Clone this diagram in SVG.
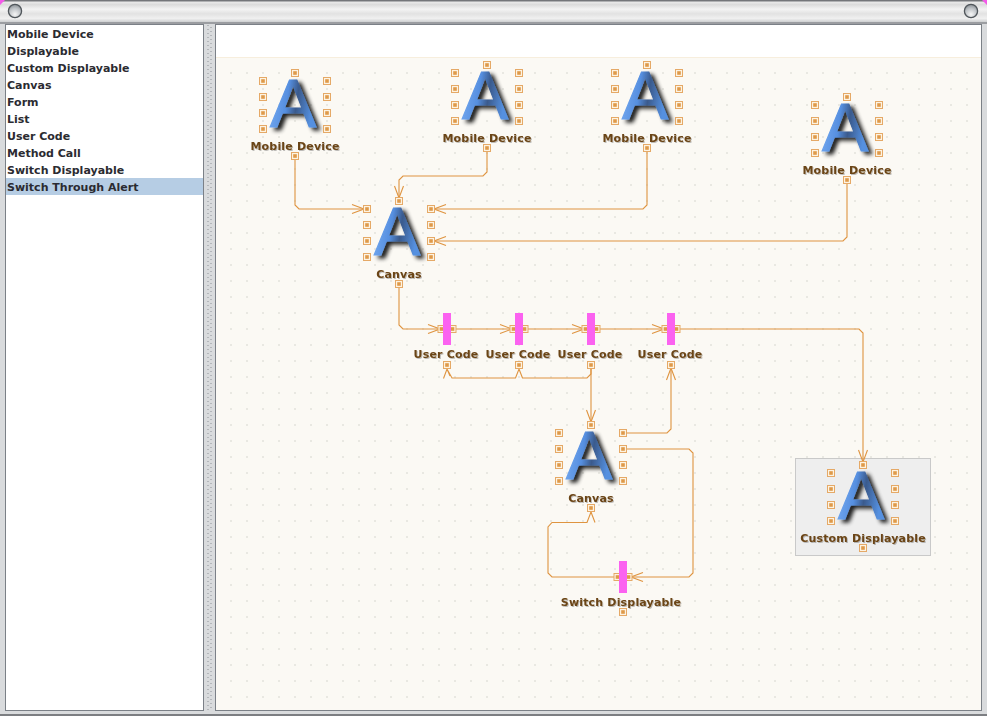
<svg xmlns="http://www.w3.org/2000/svg" width="987" height="716" viewBox="0 0 987 716">
<style>
.list{font-family:"DejaVu Sans",sans-serif;font-weight:bold;font-size:11px;letter-spacing:0;fill:#2b2b31}
.lab{font-family:"DejaVu Sans",sans-serif;font-weight:bold;font-size:11px;letter-spacing:.18px;fill:#6b4415;text-anchor:middle;filter:url(#ls)}
.c{fill:none;stroke:#df9440;stroke-width:1.1}
.pin{fill:#fdf3e2;stroke:#e5a967;stroke-width:1}
.pd{fill:#df9a4a}
.bar{fill:#fb62f0}
.A{font-family:"Liberation Sans",sans-serif;font-size:69px;text-anchor:middle;fill:url(#ag);stroke:url(#ag);stroke-width:1.2;filter:url(#as)}
</style>
<defs>
<linearGradient id="ag" x1="0" y1="0" x2="1" y2="0.25"><stop offset="0" stop-color="#7cb0f4"/><stop offset=".45" stop-color="#568fe0"/><stop offset=".66" stop-color="#3a5a8c"/><stop offset="1" stop-color="#5590e0"/></linearGradient>
<linearGradient id="tb" x1="0" y1="0" x2="0" y2="1"><stop offset="0" stop-color="#f4f4f4"/><stop offset=".2" stop-color="#dcdcdc"/><stop offset=".4" stop-color="#f3f3f3"/><stop offset=".6" stop-color="#e2e2e2"/><stop offset=".8" stop-color="#f0f0f0"/><stop offset="1" stop-color="#c4c6c8"/></linearGradient>
<radialGradient id="btn" cx=".5" cy=".75" r=".8"><stop offset="0" stop-color="#f6f6f6"/><stop offset=".55" stop-color="#c0c4c8"/><stop offset="1" stop-color="#80868b"/></radialGradient>
<filter id="as" x="-30%" y="-30%" width="170%" height="170%"><feGaussianBlur in="SourceAlpha" stdDeviation="2.300"/><feOffset dx="3.500" dy="2.500"/><feComponentTransfer result="b"><feFuncA type="linear" slope=".9"/></feComponentTransfer><feMerge><feMergeNode in="b"/><feMergeNode in="SourceGraphic"/></feMerge></filter>
<filter id="ls" x="-10%" y="-30%" width="120%" height="170%"><feGaussianBlur in="SourceAlpha" stdDeviation=".7"/><feOffset dx="1" dy="1"/><feComponentTransfer result="b"><feFuncA type="linear" slope=".25"/></feComponentTransfer><feMerge><feMergeNode in="b"/><feMergeNode in="SourceGraphic"/></feMerge></filter>
<pattern id="dots" width="16" height="16" patternUnits="userSpaceOnUse" x="223" y="65"><rect x="7.500" y="7.500" width="1" height="1" fill="#b3b2aa"/></pattern>
<pattern id="grip" width="8" height="4" patternUnits="userSpaceOnUse" x="205" y="25"><rect x="2.500" y="0" width="1" height="1" fill="#8d9196"/><rect x="5.500" y="2" width="1" height="1" fill="#8d9196"/></pattern>
<marker id="v" markerUnits="userSpaceOnUse" markerWidth="14" markerHeight="12" refX="13" refY="6" orient="auto"><path d="M1,1.500 L13,6 L1,10.500" fill="none" stroke="#df9440" stroke-width="1.1"/></marker>
<g id="p"><rect class="pin" x="-3.500" y="-3.500" width="7" height="7"/><rect class="pd" x="-1.800" y="-1.800" width="3.600" height="3.600"/></g>
<g id="icon"><text class="A" x="-2" y="54">A</text>
<use href="#p" x="0" y="0"/>
<use href="#p" x="-32" y="8"/><use href="#p" x="-32" y="24"/><use href="#p" x="-32" y="40"/><use href="#p" x="-32" y="56"/>
<use href="#p" x="32" y="8"/><use href="#p" x="32" y="24"/><use href="#p" x="32" y="40"/><use href="#p" x="32" y="56"/>
<use href="#p" x="0" y="83"/></g>
<g id="act"><use href="#p" x="-5.500" y="0"/><use href="#p" x="5.500" y="0"/><rect class="bar" x="-4" y="-16" width="8" height="32"/></g>
</defs>

<g id="window">
<rect width="987" height="716" fill="#d9dbdd"/>
<rect width="987" height="23" fill="url(#tb)"/>
<rect width="987" height="1.500" fill="#74767a"/>
<rect y="22" width="987" height="2" fill="#9b9da1"/>
<path d="M0,0 H5 L0,5 Z M987,0 H982 L987,5 Z" fill="#f35ae8"/>
<circle cx="15" cy="11" r="6.600" fill="url(#btn)" stroke="#50565b" stroke-width="1.300"/>
<circle cx="971" cy="11" r="6.600" fill="url(#btn)" stroke="#50565b" stroke-width="1.300"/>
<rect x="0" y="714" width="987" height="2" fill="#7c7e82"/>
</g>

<g id="palette">
<rect x="5.500" y="24.500" width="198" height="686" fill="#fff" stroke="#7b8087"/>
<rect x="6" y="178" width="197" height="17" fill="#b6cde4"/>
<text class="list" x="7" y="37.500">Mobile Device</text>
<text class="list" x="7" y="54.500">Displayable</text>
<text class="list" x="7" y="71.500">Custom Displayable</text>
<text class="list" x="7" y="88.500">Canvas</text>
<text class="list" x="7" y="105.500">Form</text>
<text class="list" x="7" y="122.500">List</text>
<text class="list" x="7" y="139.500">User Code</text>
<text class="list" x="7" y="156.500">Method Call</text>
<text class="list" x="7" y="173.500">Switch Displayable</text>
<text class="list" x="7" y="190.500">Switch Through Alert</text>
</g>
<rect id="splitter" x="205" y="25" width="8" height="686" fill="url(#grip)"/>

<g id="canvas">
<rect x="215.500" y="24.500" width="766" height="686" fill="#fff" stroke="#7b8087"/>
<rect x="216" y="58" width="765" height="652" fill="#fbf9f4"/>
<rect x="216" y="57" width="765" height="1" fill="#f7eedd"/>
<rect x="216" y="58" width="765" height="652" fill="url(#dots)"/>
</g>

<rect id="custom-bg" x="795.500" y="458.500" width="135" height="97" fill="#eeeeee" stroke="#c9c9c9"/>

<g id="connectors">
<path class="c" marker-end="url(#v)" d="M295,156 V205 L299,209 H364"/>
<path class="c" marker-end="url(#v)" d="M487,148 V172 L483,176 H403 L399,180 V198"/>
<path class="c" marker-end="url(#v)" d="M647,148 V205 L643,209 H434"/>
<path class="c" marker-end="url(#v)" d="M847,180 V237 L843,241 H434"/>
<path class="c" marker-end="url(#v)" d="M399,284 V325 L403,329 H440"/>
<path class="c" marker-end="url(#v)" d="M453,329 H512"/>
<path class="c" marker-end="url(#v)" d="M525,329 H584"/>
<path class="c" marker-end="url(#v)" d="M597,329 H664"/>
<path class="c" marker-end="url(#v)" d="M677,329 H859 L863,333 V462"/>
<path class="c" marker-end="url(#v)" d="M591,365 V422"/>
<path class="c" d="M591,369 V374 L587,378 H522.500 L519,369 L515.500,378 H452 L447,369 L443.500,378.500 M447,369 L450,376 M519,369 L522.500,378"/>
<path class="c" marker-end="url(#v)" d="M623,433 H667 L671,429 V368"/>
<path class="c" marker-end="url(#v)" d="M623,449 H689 L693,453 V573 L689,577 H631"/>
<path class="c" d="M617,577 H552 L548,573 V527 L552,522.500 H587 L591,512 M591,512 L595,522.500"/>
</g>

<g id="node-mobile-1"><use href="#icon" x="295" y="73"/><text class="lab" x="295" y="150">Mobile Device</text></g>
<g id="node-mobile-2"><use href="#icon" x="487" y="65"/><text class="lab" x="487" y="142">Mobile Device</text></g>
<g id="node-mobile-3"><use href="#icon" x="647" y="65"/><text class="lab" x="647" y="142">Mobile Device</text></g>
<g id="node-mobile-4"><use href="#icon" x="847" y="97"/><text class="lab" x="847" y="174">Mobile Device</text></g>
<g id="node-canvas-1"><use href="#icon" x="399" y="201"/><text class="lab" x="399" y="278">Canvas</text></g>
<g id="node-canvas-2"><use href="#icon" x="591" y="425"/><text class="lab" x="591" y="502">Canvas</text></g>
<g id="node-custom"><use href="#icon" x="863" y="465"/><text class="lab" x="863" y="542">Custom Displayable</text></g>
<g id="node-code-1"><use href="#act" x="447" y="329"/><use href="#p" x="447" y="365"/><text class="lab" x="446" y="358">User Code</text></g>
<g id="node-code-2"><use href="#act" x="519" y="329"/><use href="#p" x="519" y="365"/><text class="lab" x="518" y="358">User Code</text></g>
<g id="node-code-3"><use href="#act" x="591" y="329"/><use href="#p" x="591" y="365"/><text class="lab" x="590" y="358">User Code</text></g>
<g id="node-code-4"><use href="#act" x="671" y="329"/><use href="#p" x="671" y="365"/><text class="lab" x="670" y="358">User Code</text></g>
<g id="node-switch"><use href="#act" x="623" y="577"/><use href="#p" x="623" y="612"/><text class="lab" x="621" y="606">Switch Displayable</text></g>
</svg>
